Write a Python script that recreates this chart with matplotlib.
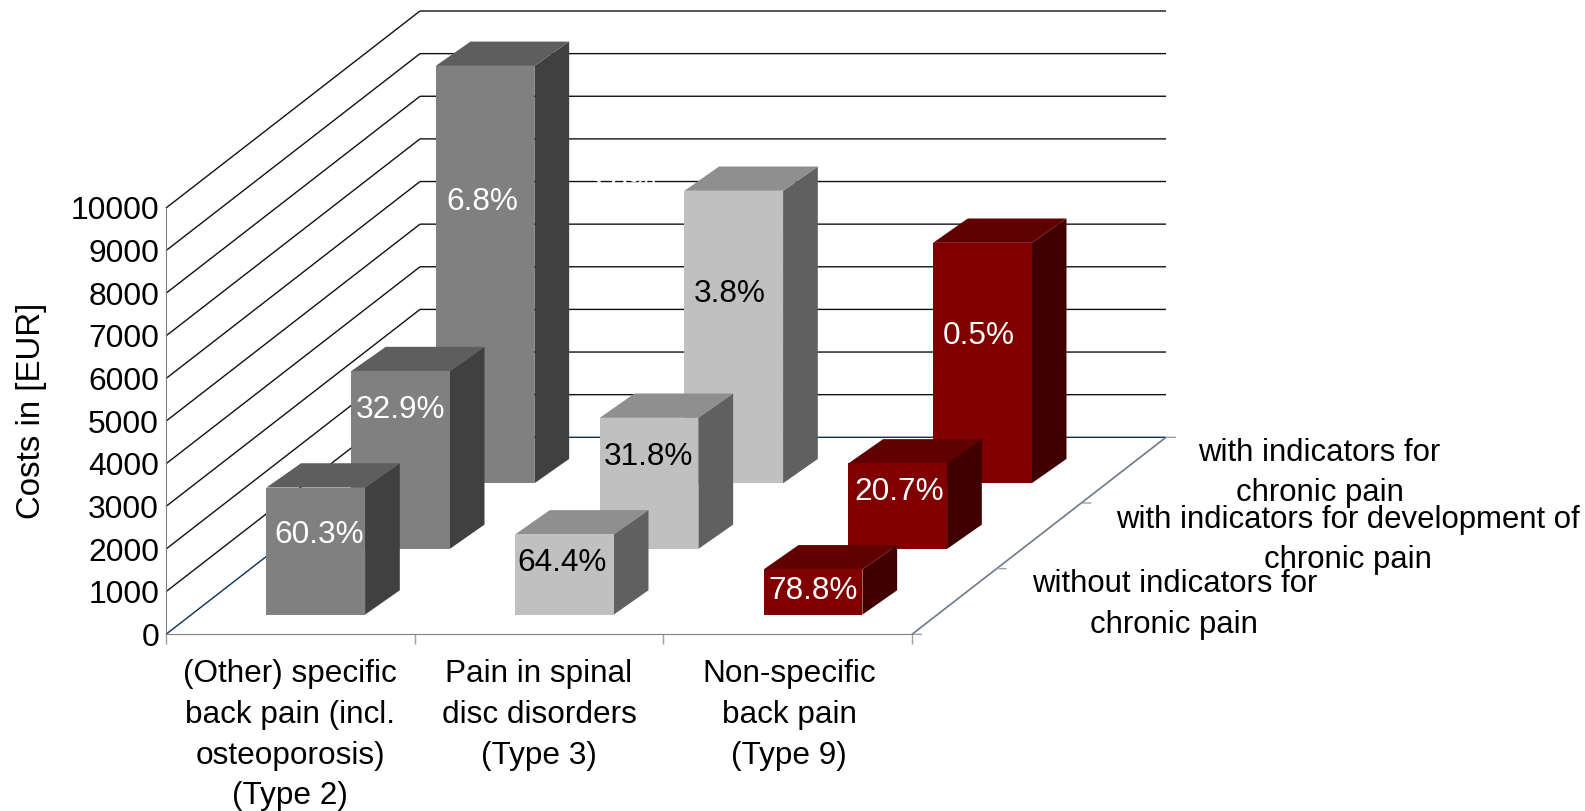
import matplotlib
matplotlib.use("Agg")
import matplotlib.pyplot as plt

# costs per category (rows) and chronicity group (front to back)
categories = ["(Other) specific\nback pain (incl.\nosteoporosis)\n(Type 2)",
              "Pain in spinal\ndisc disorders\n(Type 3)",
              "Non-specific\nback pain\n(Type 9)"]
groups = ["without indicators for\nchronic pain",
          "with indicators for development of\nchronic pain",
          "with indicators for\nchronic pain"]
yticks = list(range(0, 10001, 1000))

costs_type2 = [2980, 4170, 9790]
costs_type3 = [1880, 3075, 6860]
costs_type9 = [1060, 2005, 5640]

shares_type2 = ["60.3%", "32.9%", "6.8%"]
shares_type3 = ["64.4%", "31.8%", "3.8%"]
shares_type9 = ["78.8%", "20.7%", "0.5%"]

costs = [costs_type2, costs_type3, costs_type9]
shares = [shares_type2, shares_type3, shares_type9]

W, H = 1585, 811
FONT = "Liberation Sans"
FS = 22.7
FS_SIDE = 22.45

# oblique projection: a full step in depth moves this far in data units
DX = 254 / 248.67
DY = 197 / 426.3 * 10000
BAR_W = 0.397
BAR_D = 0.1235
BAR_SKEW = 0.0135  # bars lean a little further right than the floor does

# (front, top, side) colours for each category
face_colors = [("#808080", "#5e5e5e", "#404040"),
               ("#c0c0c0", "#8f8f8f", "#606060"),
               ("#800000", "#600000", "#400000")]
text_colors = ["white", "black", "white"]

# pixel offset of each value label from the middle of the bar's front top edge
label_offsets = [[(3, -47), (0, -39), (-3, -136)],
                 [(-2, -29), (-1, -39), (-4, -103)],
                 [(0, -22), (1, -29), (-4, -93)]]
group_offsets = [(220, -3), (309, -4), (196, -3)]
category_shift = [0, 0, 0.006]


def project(x, depth, v):
    return x + depth * DX, v + depth * DY


def line3d(ax, p0, p1, color, lw=1.0, z=1):
    a = project(*p0)
    b = project(*p1)
    ax.plot([a[0], b[0]], [a[1], b[1]], color=color, lw=lw, zorder=z,
            clip_on=False, snap=False, solid_capstyle="butt")


def draw_bar(ax, cat, group, value, colors, z):
    x0 = cat + 0.5 - BAR_W / 2
    x1 = x0 + BAR_W
    d0 = group / 3 + 0.1
    d1 = d0 + BAR_D
    bx0 = x0 + BAR_SKEW
    bx1 = x1 + BAR_SKEW
    front, top, side = colors
    faces = [([(x1, d0, 0), (bx1, d1, 0), (bx1, d1, value), (x1, d0, value)], side),
             ([(x0, d0, value), (x1, d0, value), (bx1, d1, value), (bx0, d1, value)], top),
             ([(x0, d0, 0), (x1, d0, 0), (x1, d0, value), (x0, d0, value)], front)]
    for corners, color in faces:
        pts = [project(*c) for c in corners]
        ax.fill([p[0] for p in pts], [p[1] for p in pts], color=color, lw=0,
                zorder=z, clip_on=False)


fig = plt.figure(figsize=(W / 100, H / 100), dpi=100)
ax = fig.add_axes([166 / W, (H - 634.3) / H, 746 / W, 426.3 / H])
ax.set_xlim(0, 3)
ax.set_ylim(0, 10000)

# walls: diagonal on the left side, horizontal on the back
for v in yticks:
    color = "#0a3358" if v == 0 else "#111111"
    line3d(ax, (0, 0, v), (0, 1, v), color)
    line3d(ax, (0, 1, v), (3, 1, v), color)

# floor edge on the right with its ticks
line3d(ax, (3, 0, 0), (3, 1, 0), "#6c7a89", lw=1.2, z=1.5)
for k in range(4):
    line3d(ax, (3, k / 3, 0), (3 + 10 / 248.67, k / 3, 0), "#a0a0a0", z=1.5)

# stray white label sitting on the 6000 gridline
ax.text(*project(0.808, 1, 6000), "3.8%", color="white", fontsize=FS,
        family=FONT, ha="center", va="center", zorder=2)

z = 3
for g in [2, 1, 0]:
    for c in range(3):
        draw_bar(ax, c, g, costs[c][g], face_colors[c], z)
        z += 1
        ax.annotate(shares[c][g], project(c + 0.5, g / 3 + 0.1, costs[c][g]),
                    xytext=label_offsets[c][g], textcoords="offset pixels",
                    annotation_clip=False, color=text_colors[c], fontsize=FS,
                    family=FONT, ha="center", va="center", zorder=z)
        z += 1

ax.spines["top"].set_visible(False)
ax.spines["right"].set_visible(False)
ax.spines["left"].set_color("#808080")
ax.spines["bottom"].set_color("#808080")
ax.set_facecolor("none")
ax.set_yticks(yticks)
ax.set_yticklabels([str(v) for v in yticks], fontsize=22.9, family=FONT,
                   va="center_baseline")
ax.tick_params(axis="y", length=0, pad=5)
ax.set_xticks([0, 1, 2, 3])
ax.set_xticklabels([])
ax.tick_params(axis="x", length=7.5, color="#a0a0a0", width=1)

for i, label in enumerate(categories):
    ax.annotate(label, (i + 0.5 + category_shift[i], 0), xytext=(0, -25),
                textcoords="offset pixels", annotation_clip=False, fontsize=FS,
                family=FONT, ha="center", va="top", linespacing=1.465)

for g, label in enumerate(groups):
    ax.annotate(label, project(3, (g + 0.5) / 3, 0), xytext=group_offsets[g],
                textcoords="offset pixels", annotation_clip=False,
                fontsize=FS_SIDE, family=FONT, ha="center", va="center",
                linespacing=1.45)

fig.text(31.5 / W, 1 - 411 / H, "Costs in [EUR]", rotation=90, fontsize=23.8,
         family=FONT, ha="center", va="center")

fig.savefig("out.png", dpi=100)
